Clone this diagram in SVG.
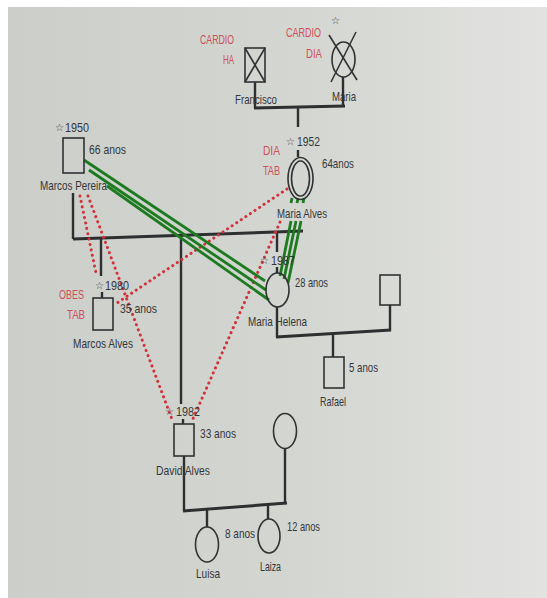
<svg xmlns="http://www.w3.org/2000/svg" width="547" height="598" viewBox="0 0 547 598">
<defs>
<linearGradient id="bg" x1="0" y1="0" x2="1" y2="0">
<stop offset="0" stop-color="#cbcec9"/>
<stop offset="0.55" stop-color="#d4d6d2"/>
<stop offset="1" stop-color="#e2e3e0"/>
</linearGradient>
<style>
.t{font-family:"Liberation Sans","DejaVu Sans",sans-serif;font-size:13px;fill:#34373a;}
.r{fill:#d04e57;}
.s{font-family:"DejaVu Sans",sans-serif;font-size:10px;fill:#3a3d40;}
.sh{fill:none;stroke:#303234;stroke-width:1.6;}
.ln{fill:none;stroke:#2d2f31;stroke-width:2.4;}
.cp{fill:none;stroke:#2d2f31;stroke-width:3;}
.rd{fill:none;stroke:#d3323a;stroke-width:3;stroke-linecap:round;stroke-dasharray:0.1 5.4;}
.gr{fill:none;stroke:#1c7a1f;stroke-width:2.8;}
</style>
</defs>
<rect x="0" y="0" width="547" height="598" fill="#ffffff"/>
<rect x="8" y="7" width="539" height="591" fill="url(#bg)"/>

<g id="connectors">
<line class="ln" x1="255" y1="82" x2="255" y2="108"/>
<line class="ln" x1="343" y1="77" x2="343" y2="106"/>
<line class="cp" x1="254" y1="108" x2="345" y2="106"/>
<line class="ln" x1="298" y1="107" x2="298" y2="127"/>
<line class="ln" x1="298" y1="150" x2="298" y2="157"/>
<line class="ln" x1="73" y1="193" x2="73" y2="239"/>
<line class="cp" x1="73" y1="239" x2="303" y2="231"/>
<line class="ln" x1="101" y1="238" x2="101" y2="276"/>
<line class="ln" x1="102" y1="292" x2="102" y2="298"/>
<line class="ln" x1="181" y1="235" x2="181" y2="404"/>
<line class="ln" x1="183" y1="419" x2="183" y2="424"/>
<line class="ln" x1="277" y1="232" x2="277" y2="252"/>
<line class="ln" x1="277" y1="267" x2="277" y2="273"/>
<line class="ln" x1="277" y1="307" x2="277" y2="337"/>
<line class="ln" x1="390" y1="305" x2="390" y2="331"/>
<line class="cp" x1="276" y1="337" x2="391" y2="330"/>
<line class="ln" x1="333" y1="334" x2="333" y2="357"/>
<line class="ln" x1="184" y1="456" x2="184" y2="511"/>
<line class="ln" x1="285" y1="448" x2="285" y2="504"/>
<line class="cp" x1="183" y1="511" x2="287" y2="503"/>
<line class="ln" x1="207" y1="509" x2="207" y2="527"/>
<line class="ln" x1="268" y1="505" x2="268" y2="519"/>
<line class="rd" x1="80" y1="196" x2="96" y2="273"/>
<line class="rd" x1="88" y1="196" x2="173" y2="422"/>
<line class="rd" x1="287" y1="189" x2="114" y2="305"/>
<line class="rd" x1="280" y1="222" x2="192" y2="421"/>
<line class="gr" x1="84" y1="160" x2="265" y2="281"/>
<line class="gr" x1="89" y1="170" x2="266" y2="290"/>
<line class="gr" x1="107" y1="186" x2="269" y2="300"/>
<line class="gr" x1="291" y1="221" x2="280" y2="276"/>
<line class="gr" x1="296" y1="221" x2="284" y2="279"/>
<line class="gr" x1="301" y1="221" x2="288" y2="283"/>
<line class="gr" x1="292" y1="198" x2="291" y2="203"/>
<line class="gr" x1="298" y1="198" x2="297" y2="203"/>
<line class="gr" x1="304" y1="198" x2="303" y2="203"/>
</g>

<g id="francisco">
<rect class="sh" x="245" y="48" width="20" height="34"/>
<line class="sh" x1="245" y1="48" x2="265" y2="82"/>
<line class="sh" x1="265" y1="48" x2="245" y2="82"/>
<text class="t r" x="200" y="44" textLength="34" lengthAdjust="spacingAndGlyphs">CARDIO</text>
<text class="t r" x="223" y="64" textLength="11" lengthAdjust="spacingAndGlyphs">HA</text>
<text class="t" x="235" y="104" textLength="42" lengthAdjust="spacingAndGlyphs">Francisco</text>
</g>

<g id="maria">
<ellipse class="sh" cx="343.5" cy="59.5" rx="11.5" ry="17.5"/>
<line class="sh" x1="329" y1="35" x2="357" y2="80"/>
<line class="sh" x1="356" y1="32" x2="331" y2="82"/>
<text class="s" x="331" y="24">☆</text>
<text class="t r" x="286" y="37" textLength="35" lengthAdjust="spacingAndGlyphs">CARDIO</text>
<text class="t r" x="306" y="58" textLength="16" lengthAdjust="spacingAndGlyphs">DIA</text>
<text class="t" x="332" y="101" textLength="24" lengthAdjust="spacingAndGlyphs">Maria</text>
</g>

<g id="marcos-pereira">
<rect class="sh" x="63" y="138" width="21" height="35"/>
<text class="s" x="55" y="131">☆</text>
<text class="t" x="65" y="132" textLength="24" lengthAdjust="spacingAndGlyphs">1950</text>
<text class="t" x="89" y="154" textLength="37" lengthAdjust="spacingAndGlyphs">66 anos</text>
<text class="t" x="40" y="190" textLength="67" lengthAdjust="spacingAndGlyphs">Marcos Pereira</text>
</g>

<g id="maria-alves">
<ellipse class="sh" cx="300.5" cy="178.5" rx="12.5" ry="21"/>
<ellipse class="sh" cx="300.5" cy="178.5" rx="9" ry="17.5"/>
<text class="s" x="286" y="145">☆</text>
<text class="t" x="297" y="146" textLength="23" lengthAdjust="spacingAndGlyphs">1952</text>
<text class="t r" x="263" y="155" textLength="17" lengthAdjust="spacingAndGlyphs">DIA</text>
<text class="t r" x="263" y="175" textLength="17" lengthAdjust="spacingAndGlyphs">TAB</text>
<text class="t" x="322" y="168" textLength="32" lengthAdjust="spacingAndGlyphs">64anos</text>
<text class="t" x="277" y="218" textLength="50" lengthAdjust="spacingAndGlyphs">Maria Alves</text>
</g>

<g id="marcos-alves">
<rect class="sh" x="93" y="298" width="20" height="32"/>
<text class="s" x="95" y="289">☆</text>
<text class="t" x="105" y="290" textLength="24" lengthAdjust="spacingAndGlyphs">1980</text>
<text class="t r" x="59" y="299" textLength="25" lengthAdjust="spacingAndGlyphs">OBES</text>
<text class="t r" x="67" y="319" textLength="18" lengthAdjust="spacingAndGlyphs">TAB</text>
<text class="t" x="120" y="313" textLength="37" lengthAdjust="spacingAndGlyphs">35 anos</text>
<text class="t" x="73" y="348" textLength="60" lengthAdjust="spacingAndGlyphs">Marcos Alves</text>
</g>

<g id="maria-helena">
<ellipse class="sh" cx="277.5" cy="290" rx="11.5" ry="17"/>
<text class="s" x="260" y="264">☆</text>
<text class="t" x="271" y="265" textLength="24" lengthAdjust="spacingAndGlyphs">1987</text>
<text class="t" x="295" y="287" textLength="33" lengthAdjust="spacingAndGlyphs">28 anos</text>
<text class="t" x="248" y="326" textLength="59" lengthAdjust="spacingAndGlyphs">Maria Helena</text>
</g>

<g id="partner-helena">
<rect class="sh" x="380" y="275" width="20" height="30"/>
</g>

<g id="rafael">
<rect class="sh" x="324" y="357" width="20" height="31"/>
<text class="t" x="349" y="372" textLength="29" lengthAdjust="spacingAndGlyphs">5 anos</text>
<text class="t" x="320" y="406" textLength="26" lengthAdjust="spacingAndGlyphs">Rafael</text>
</g>

<g id="david-alves">
<rect class="sh" x="174" y="424" width="20" height="32"/>
<text class="s" x="165" y="415">☆</text>
<text class="t" x="176" y="416" textLength="24" lengthAdjust="spacingAndGlyphs">1982</text>
<text class="t" x="200" y="438" textLength="36" lengthAdjust="spacingAndGlyphs">33 anos</text>
<text class="t" x="156" y="475" textLength="54" lengthAdjust="spacingAndGlyphs">David Alves</text>
</g>

<g id="wife-david">
<ellipse class="sh" cx="285" cy="431" rx="11.5" ry="17.5"/>
</g>

<g id="luisa">
<ellipse class="sh" cx="207" cy="544.5" rx="11.5" ry="17.5"/>
<text class="t" x="225" y="538" textLength="30" lengthAdjust="spacingAndGlyphs">8 anos</text>
<text class="t" x="196" y="578" textLength="24" lengthAdjust="spacingAndGlyphs">Luisa</text>
</g>

<g id="laiza">
<ellipse class="sh" cx="269" cy="536" rx="11" ry="17"/>
<text class="t" x="287" y="531" textLength="33" lengthAdjust="spacingAndGlyphs">12 anos</text>
<text class="t" x="260" y="571" textLength="21" lengthAdjust="spacingAndGlyphs">Laiza</text>
</g>
</svg>
